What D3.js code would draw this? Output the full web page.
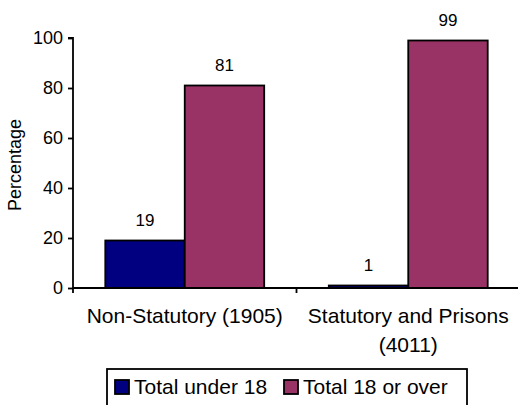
<!DOCTYPE html>
<html>
<head>
<meta charset="utf-8">
<script src="https://cdn.jsdelivr.net/npm/d3@7"></script>
<style>
  html, body { margin: 0; padding: 0; background: #fff; }
  svg { display: block; font-family: "Liberation Sans", Arial, sans-serif; }
</style>
</head>
<body>
<svg id="chart" width="518" height="405"></svg>
<script>
const categories = ["Non-Statutory (1905)", "Statutory and Prisons (4011)"];
const categoryLines = [["Non-Statutory (1905)"], ["Statutory and Prisons", "(4011)"]];
const seriesNames = ["Total under 18", "Total 18 or over"];
const under18 = [19, 1];
const over18 = [81, 99];
const yTicks = [0, 20, 40, 60, 80, 100];
const colors = ["#000080", "#993366"];

const svg = d3.select("#chart");
const mLeft = 73, mRight = 520, mTop = 38, mBottom = 288;

const x0 = d3.scaleBand().domain(categories).range([mLeft, mRight]).paddingInner(0.289).paddingOuter(0.1445);
const x1 = d3.scaleBand().domain(seriesNames).range([0, x0.bandwidth()]);
const y = d3.scaleLinear().domain([0, 100]).range([mBottom, mTop]);

const data = categories.map((c, i) => ({cat: c, values: [under18[i], over18[i]]}));

// bars
const g = svg.append("g");
const groups = g.selectAll("g.grp").data(data).join("g")
  .attr("transform", d => `translate(${x0(d.cat)},0)`);
groups.selectAll("rect").data(d => d.values.map((v, j) => ({v, s: seriesNames[j], j}))).join("rect")
  .attr("x", d => x1(d.s))
  .attr("y", d => y(d.v))
  .attr("width", x1.bandwidth())
  .attr("height", d => y(0) - y(d.v))
  .attr("fill", d => colors[d.j])
  .attr("stroke", "#000")
  .attr("stroke-width", 1.8);
groups.selectAll("text.val").data(d => d.values.map((v, j) => ({v, s: seriesNames[j]}))).join("text")
  .attr("class", "val")
  .attr("x", d => x1(d.s) + x1.bandwidth() / 2)
  .attr("y", d => y(d.v) - 15)
  .attr("text-anchor", "middle")
  .attr("font-size", 17)
  .attr("fill", "#000")
  .text(d => d.v);

// y axis
const yAxis = d3.axisLeft(y).tickValues(yTicks).tickSize(5).tickPadding(5);
const ya = svg.append("g").attr("transform", `translate(${mLeft},0)`).call(yAxis);
ya.select(".domain").attr("stroke-width", 1.8).attr("d", `M-5,${mTop}H0V${mBottom}`);
ya.selectAll(".tick line").attr("stroke-width", 1.8);
ya.selectAll(".tick text").attr("font-size", 18).attr("font-family", "Liberation Sans, Arial, sans-serif").attr("fill", "#000");

// x axis line with category boundary ticks
const xa = svg.append("g");
xa.append("line").attr("x1", mLeft).attr("x2", mRight).attr("y1", mBottom).attr("y2", mBottom)
  .attr("stroke", "#000").attr("stroke-width", 1.8);
const step = x0.step();
const bounds = d3.range(categories.length + 1).map(i => mLeft + i * step);
xa.selectAll("line.bt").data(bounds).join("line").attr("class", "bt")
  .attr("x1", d => d).attr("x2", d => d).attr("y1", mBottom).attr("y2", mBottom + 5)
  .attr("stroke", "#000").attr("stroke-width", 1.8);

// category labels
const cl = svg.append("g").selectAll("text").data(categories).join("text")
  .attr("x", d => x0(d) + x0.bandwidth() / 2)
  .attr("y", 323)
  .attr("text-anchor", "middle")
  .attr("font-size", 21)
  .attr("fill", "#000");
cl.each(function(d, i) {
  d3.select(this).selectAll("tspan").data(categoryLines[i]).join("tspan")
    .attr("x", x0(d) + x0.bandwidth() / 2)
    .attr("dy", (t, k) => k === 0 ? 0 : 29)
    .text(t => t);
});

// y axis title
svg.append("text")
  .attr("transform", `translate(21,${(mTop + mBottom) / 2 + 2}) rotate(-90)`)
  .attr("text-anchor", "middle")
  .attr("font-size", 18)
  .attr("fill", "#000")
  .text("Percentage");

// legend
const lg = svg.append("g");
lg.append("rect").attr("x", 107).attr("y", 369).attr("width", 360).attr("height", 45)
  .attr("fill", "#fff").attr("stroke", "#000").attr("stroke-width", 1.8);
const items = lg.selectAll("g.item").data(seriesNames).join("g")
  .attr("transform", (d, i) => `translate(${i === 0 ? 115 : 284},0)`);
items.append("rect").attr("x", 0).attr("y", 380).attr("width", 14).attr("height", 14)
  .attr("fill", (d, i) => colors[i]).attr("stroke", "#000").attr("stroke-width", 1.8);
items.append("text").attr("x", 19).attr("y", 394).attr("font-size", 21).attr("fill", "#000").text(d => d);
</script>
</body>
</html>
